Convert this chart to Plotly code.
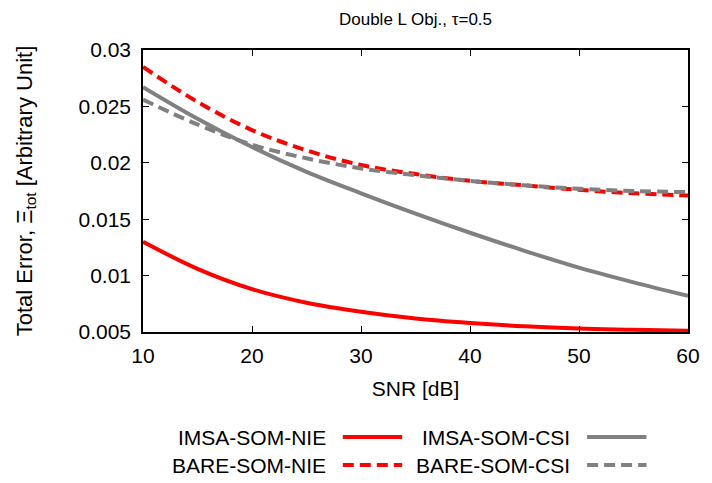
import plotly.graph_objects as go

snr = [10, 15, 20, 25, 30, 35, 40, 45, 50, 55, 60]
imsa_nie = [0.0130, 0.0106, 0.0088, 0.0076, 0.0068, 0.0062, 0.0058, 0.0055, 0.0053, 0.0052, 0.0051]
imsa_csi = [0.0267, 0.0239, 0.0214, 0.0192, 0.0173, 0.0155, 0.0138, 0.0122, 0.0107, 0.0094, 0.0082]
bare_nie = [0.0285, 0.0254, 0.0229, 0.0211, 0.0198, 0.0190, 0.0184, 0.0180, 0.0176, 0.0173, 0.0171]
bare_csi = [0.0256, 0.0234, 0.0216, 0.0204, 0.0195, 0.0189, 0.0184, 0.0180, 0.0177, 0.0175, 0.0174]

series = [
    ("IMSA-SOM-NIE", imsa_nie, "#ff0000", "solid"),
    ("IMSA-SOM-CSI", imsa_csi, "#808080", "solid"),
    ("BARE-SOM-NIE", bare_nie, "#ff0000", "11px,6px"),
    ("BARE-SOM-CSI", bare_csi, "#808080", "11px,6px"),
]

FONT = "Liberation Sans, Arial, sans-serif"
fig = go.Figure()
for name, ys, col, dash in series:
    fig.add_trace(go.Scatter(x=snr, y=ys, mode="lines", name=name,
                             line=dict(color=col, width=4, dash=dash, shape="spline", smoothing=1.0),
                             showlegend=False))

# custom legend (text left of the line sample)
leg_pos = [(330, 437), (577, 437), (330, 465), (577, 465)]
W, H = 712, 483
L, R, T, B = 143, 18, 50, 151
pw, ph = W - L - R, H - T - B
def px(x):
    return (x - L) / pw
def py(y):
    return (H - B - y) / ph
for (name, ys, col, dash), (xe, yc) in zip(series, leg_pos):
    fig.add_annotation(x=px(xe), y=py(yc), xref="paper", yref="paper", text=name,
                       showarrow=False, xanchor="right", yanchor="middle",
                       font=dict(family=FONT, size=21, color="black"))
    fig.add_shape(type="line", xref="paper", yref="paper",
                  x0=px(xe + 15), x1=px(xe + 75), y0=py(yc), y1=py(yc),
                  line=dict(color=col, width=4, dash=dash))

axis_common = dict(showgrid=False, zeroline=False, showline=True, linecolor="black",
                   linewidth=1.5, mirror="allticks", ticks="inside", ticklen=6,
                   tickcolor="black", tickfont=dict(family=FONT, size=21, color="black"))
fig.update_xaxes(range=[10, 60], tickvals=[10, 20, 30, 40, 50, 60],
                 ticklabelstandoff=4,
                 title=dict(text="SNR [dB]", font=dict(family=FONT, size=21, color="black"), standoff=15),
                 **axis_common)
fig.update_yaxes(range=[0.005, 0.03], tickvals=[0.005, 0.01, 0.015, 0.02, 0.025, 0.03],
                 ticktext=["0.005", "0.01", "0.015", "0.02", "0.025", "0.03"],
                 ticklabelstandoff=6,
                 title=dict(text="Total Error, Ξ<sub>tot</sub> [Arbitrary Unit]",
                            font=dict(family=FONT, size=22, color="black"), standoff=40),
                 **axis_common)
fig.update_layout(width=W, height=H, margin=dict(l=L, r=R, t=T, b=B),
                  plot_bgcolor="white", paper_bgcolor="white",
                  title=dict(text="Double L Obj., τ=0.5", x=0.5, xref="paper", xanchor="center",
                             y=1 - 19 / H, yanchor="middle",
                             font=dict(family=FONT, size=17, color="black")))
fig.write_html("out.html")
